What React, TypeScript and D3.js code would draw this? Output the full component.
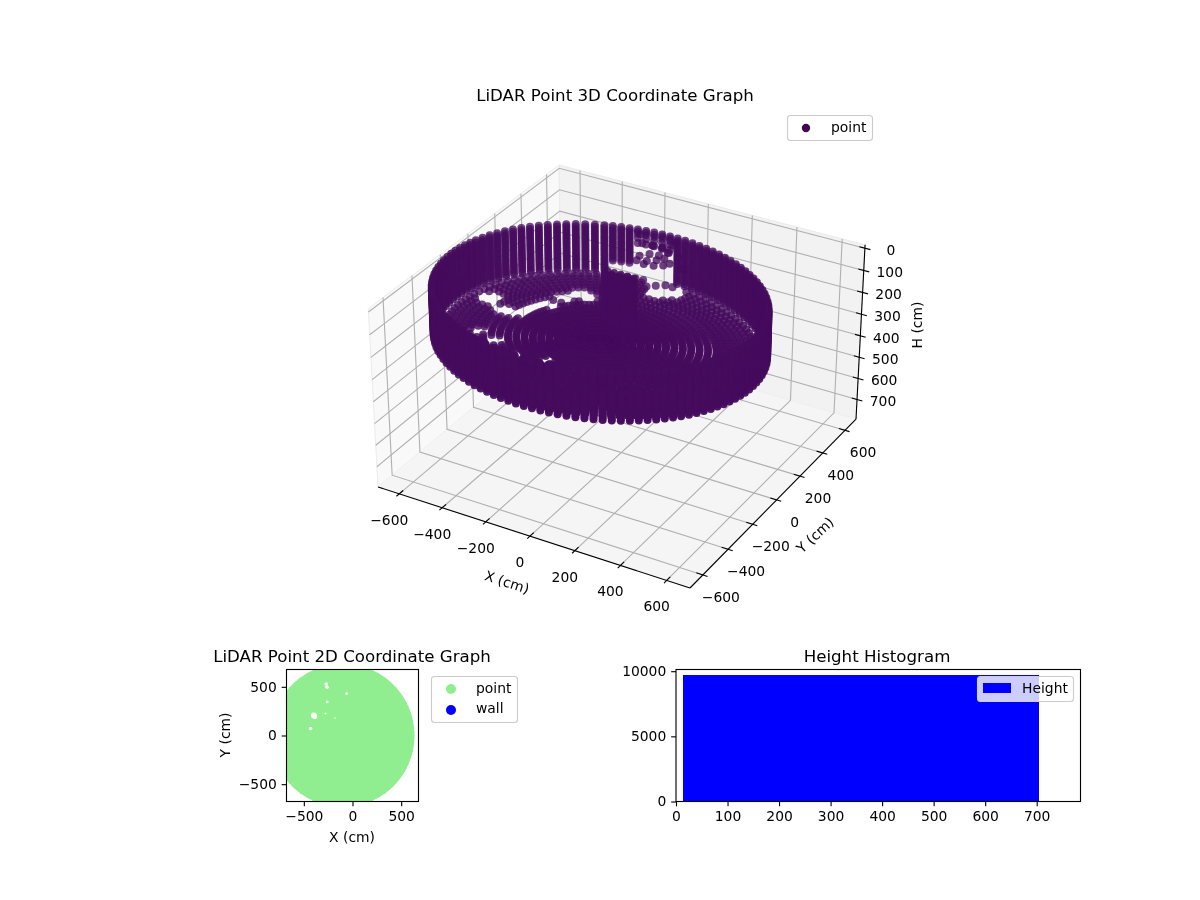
import { useEffect, useRef } from "react";
import * as d3 from "d3";

// values
const xTicks3d = [-600, -400, -200, 0, 200, 400, 600];
const yTicks3d = [-600, -400, -200, 0, 200, 400, 600];
const zTicks3d = [0, 100, 200, 300, 400, 500, 600, 700];
const xLim3d = [-700, 700];
const yLim3d = [-700, 700];
const zLim3d = [795, -15]; // inverted, floor pane sits at the large end

const ringCenter = [-100, 0];
const ringRadiusX = 682;
const ringRadiusY = 565;
const wallAzimuths = [
  0, 3, 6, 9, 12, 15, 18, 21, 24, 27, 30, 33, 36, 39, 42, 45, 48, 51, 54, 57, 60, 63, 66, 69, 72, 75, 78, 81, 84, 87,
  114, 117.4, 120.8, 124.2, 127.6, 131, 134.4, 137.8, 141.2, 144.6, 148, 151.4, 154.8, 158.2, 161.6, 165, 168, 171,
  174, 177, 180, 183, 186, 189, 192, 195, 198, 201, 204, 207, 210, 213, 216, 219, 222, 225, 228, 231, 234, 237, 240,
  243, 246, 249, 252, 255, 258, 261, 264, 267, 270, 273, 276, 279, 282, 285, 288, 291, 294, 297, 300, 303, 306, 309,
  312, 315, 318, 321, 324, 327, 330, 333, 336, 339, 342, 345, 348, 351, 354, 357,
];
const wallHeights = [98, 108, 118, 128, 138, 148, 158, 168, 178, 188, 198, 208, 218, 228, 238, 248, 258, 268, 278, 288, 298, 308];
// columns at the back that stop early
const shortAzimuths = [90, 93, 96, 99, 102];
const shortHeights = [98, 108, 118, 136, 161];
const halfAzimuths = [105, 108, 111];
const halfHeights = [98, 108, 118, 128, 138, 148, 158, 168, 178, 188, 198, 208, 218, 228, 238, 248, 258];

const floorAzimuths = [
  0, 3, 6, 9, 12, 15, 18, 21, 24, 27, 30, 33, 36, 39, 42, 45, 48, 51, 54, 57, 60, 63, 66, 69, 72, 75, 78, 81, 84, 87, 90,
  93, 96, 99, 102, 105, 108, 111, 114, 117, 120, 123, 126, 129, 132, 135, 138, 141, 144, 147, 150, 153, 156, 159, 162,
  165, 168, 171, 174, 177, 180, 183, 186, 189, 192, 195, 198, 201, 204, 207, 210, 213, 216, 219, 222, 225, 228, 231,
  234, 237, 240, 243, 246, 249, 252, 255, 258, 261, 264, 267, 270, 273, 276, 279, 282, 285, 288, 291, 294, 297, 300,
  303, 306, 309, 312, 315, 318, 321, 324, 327, 330, 333, 336, 339, 342, 345, 348, 351, 354, 357,
];
const floorFractions = [0.05, 0.1, 0.15, 0.2, 0.25, 0.3, 0.35, 0.4, 0.45, 0.5, 0.55, 0.6, 0.65, 0.7, 0.74, 0.78, 0.82, 0.86, 0.9, 0.94];
const floorHeight = 308;

// floor patches that the scan did not reach: x, y, radius
const floorHoles = [
  [-655, 85, 52], [-561, 32, 50], [-500, 43, 46], [-466, 106, 42], [-425, 155, 42], [-404, 243, 48], [-360, 286, 48],
  [-313, 281, 42], [-92, 455, 55], [-47, 481, 50], [-165, 535, 36], [-557, -165, 34], [-459, -190, 30],
  [-325, -251, 30], [-207, -223, 25],
];

// tall thing in the middle of the room
const towerX = [-150, -120, -90, -60, -30];
const towerY = [130, 150];
const towerZ = [75, 95, 115, 135, 155, 175, 195, 215, 235, 255, 275, 295];

// loose returns near the back wall: x, y, z
const clutter = [
  [-181, 542, 190], [-142, 550, 190], [-118, 589, 190], [-118, 464, 190], [-159, 456, 190], [-209, 509, 190],
  [-85, 484, 190], [-204, 611, 190], [-164, 620, 190], [-136, 652, 190], [-225, 560, 160], [-95, 540, 160],
  [-60, 560, 180], [-250, 590, 140], [-20, 530, 210], [-200, 470, 190], [-170, 500, 200], [-130, 510, 190],
  [-100, 520, 180], [-70, 510, 190], [-150, 590, 180], [-110, 630, 160], [-190, 580, 170],
];

const planTicks = [-500, 0, 500];
const planLim = [-678, 678];
const planRadius = 687;
const planFractions = [0.08, 0.16, 0.24, 0.32, 0.4, 0.48, 0.56, 0.64, 0.72, 0.8, 0.86, 0.92, 0.96, 1];
// white slivers in the 2D graph: x, y, radius
const planGaps = [
  [-270, 530, 18], [-262, 495, 18], [-60, 430, 14], [-260, 345, 14], [-397, 205, 30], [-385, 190, 22],
  [-430, 72, 18], [-278, 225, 10], [-180, 180, 8],
];

const histEdges = [13, 82, 151, 220, 289, 358, 427, 497, 566, 635, 705];
const histCounts = [9693, 9693, 9693, 9693, 9693, 9693, 9693, 9693, 9693, 9693];
const histXTicks = [0, 100, 200, 300, 400, 500, 600, 700];
const histYTicks = [0, 5000, 10000];

const FONT = "'DejaVu Sans', sans-serif";
const minus = (d: d3.NumberValue) => String(d).replace("-", "\u2212");

// matplotlib-style camera: azim -60, dist 10
const boxF = (1.8294640721620434 * 25) / 24 / Math.hypot(4, 4, 3);
const box = [4 * boxF, 4 * boxF, 2.45 * boxF];
const el = (32 * Math.PI) / 180;
const az = (-60 * Math.PI) / 180;
const w = [Math.cos(el) * Math.cos(az), Math.cos(el) * Math.sin(az), Math.sin(el)];
const eye = [box[0] / 2 + 10 * w[0], box[1] / 2 + 10 * w[1], box[2] / 2 + 10 * w[2]];
const uLen = Math.hypot(w[1], w[0]);
const u = [-w[1] / uLen, w[0] / uLen, 0];
const v = [w[1] * u[2] - w[2] * u[1], w[2] * u[0] - w[0] * u[2], w[0] * u[1] - w[1] * u[0]];
const dot = (a: number[], b: number[]) => a[0] * b[0] + a[1] * b[1] + a[2] * b[2];

const worldX = d3.scaleLinear().domain(xLim3d).range([0, box[0]]);
const worldY = d3.scaleLinear().domain(yLim3d).range([0, box[1]]);
const worldZ = d3.scaleLinear().domain(zLim3d).range([0, box[2]]);

function camera(x: number, y: number, z: number) {
  const d = [worldX(x) - eye[0], worldY(y) - eye[1], worldZ(z) - eye[2]];
  const depth = dot(w, d);
  return { sx: dot(u, d) / -depth, sy: dot(v, d) / -depth, depth };
}

const [x0, x1] = xLim3d;
const [y0, y1] = yLim3d;
const [zb, zt] = zLim3d;

// pin the projected box to the corners seen in the picture
const screenX = d3.scaleLinear().domain([camera(x0, y0, zb).sx, camera(x1, y1, zb).sx]).range([378, 856]);
const screenY = d3.scaleLinear().domain([camera(x1, y0, zb).sy, camera(x0, y1, zt).sy]).range([588, 165]);
const project = (x: number, y: number, z: number): [number, number] => {
  const c = camera(x, y, z);
  return [screenX(c.sx), screenY(c.sy)];
};

const ringPoint = (az: number, f: number) => [
  ringCenter[0] + f * ringRadiusX * Math.cos((az * Math.PI) / 180),
  ringCenter[1] + f * ringRadiusY * Math.sin((az * Math.PI) / 180),
];
const planPoint = (az: number, f: number) => [
  ringCenter[0] + f * planRadius * Math.cos((az * Math.PI) / 180),
  ringCenter[1] + f * planRadius * Math.sin((az * Math.PI) / 180),
];

const inHole = (x: number, y: number) => floorHoles.some(([hx, hy, hr]) => Math.hypot(x - hx, y - hy) < hr);

function buildCloud() {
  const pts: number[][] = [];
  for (const a of wallAzimuths) for (const z of wallHeights) pts.push([...ringPoint(a, 1), z]);
  for (const a of shortAzimuths) for (const z of shortHeights) pts.push([...ringPoint(a, 1), z]);
  for (const a of halfAzimuths) for (const z of halfHeights) pts.push([...ringPoint(a, 1), z]);
  for (const f of floorFractions)
    for (const a of floorAzimuths) {
      const [x, y] = ringPoint(a, f);
      if (!inHole(x, y)) pts.push([x, y, floorHeight]);
    }
  for (const x of towerX) for (const y of towerY) for (const z of towerZ) pts.push([x, y, z]);
  for (const p of clutter) pts.push(p);
  return pts;
}

function styleAxis(g: d3.Selection<SVGGElement, unknown, null, undefined>) {
  g.select(".domain").remove();
  g.selectAll(".tick line").attr("stroke", "#000").attr("stroke-width", 1.11);
  g.selectAll(".tick text").attr("fill", "#000").style("font-family", FONT).style("font-size", "13.89px");
}

export default function App() {
  const svgRef = useRef<SVGSVGElement>(null);

  useEffect(() => {
    if (!svgRef.current) return;
    const svg = d3.select(svgRef.current);
    svg.selectAll("*").remove();

    const label = (x: number, y: number, text: string, size = 13.89, rotate = 0, anchor = "middle") =>
      svg
        .append("text")
        .attr("transform", `translate(${x},${y}) rotate(${rotate})`)
        .attr("text-anchor", anchor)
        .attr("dominant-baseline", "central")
        .style("font-family", FONT)
        .style("font-size", `${size}px`)
        .attr("fill", "#000")
        .text(text);

    // ---- 3D graph ----
    const line3 = d3.line<number[]>().x((d) => project(d[0], d[1], d[2])[0]).y((d) => project(d[0], d[1], d[2])[1]);
    const panes = [
      { pts: [[x0, y0, zb], [x0, y1, zb], [x0, y1, zt], [x0, y0, zt]], fill: "#f9f9f9" },
      { pts: [[x0, y1, zb], [x1, y1, zb], [x1, y1, zt], [x0, y1, zt]], fill: "#f2f2f2" },
      { pts: [[x0, y0, zb], [x1, y0, zb], [x1, y1, zb], [x0, y1, zb]], fill: "#f5f5f5" },
    ];
    svg.append("g").selectAll("path").data(panes).join("path")
      .attr("d", (d) => line3(d.pts) + "Z")
      .attr("fill", (d) => d.fill)
      .attr("stroke", (d) => d.fill === "#f5f5f5" ? "#f0f0f0" : "#ebebeb")
      .attr("stroke-width", 1);

    const grid = svg.append("g").attr("fill", "none").attr("stroke", "#b0b0b0").attr("stroke-width", 1.11);
    for (const t of xTicks3d) grid.append("path").attr("d", line3([[t, y0, zb], [t, y1, zb], [t, y1, zt]]));
    for (const t of yTicks3d) grid.append("path").attr("d", line3([[x1, t, zb], [x0, t, zb], [x0, t, zt]]));
    for (const t of zTicks3d) grid.append("path").attr("d", line3([[x1, y1, t], [x0, y1, t], [x0, y0, t]]));

    const axes3 = svg.append("g").attr("fill", "none").attr("stroke", "#000").attr("stroke-width", 1.11);
    axes3.append("path").attr("d", line3([[x0, y0, zb], [x1, y0, zb]]));
    axes3.append("path").attr("d", line3([[x1, y0, zb], [x1, y1, zb]]));
    axes3.append("path").attr("d", line3([[x1, y1, zb], [x1, y1, zt]]));
    for (const t of xTicks3d) axes3.append("path").attr("d", line3([[t, y0 - 20, zb], [t, y0 + 28, zb]]));
    for (const t of yTicks3d) axes3.append("path").attr("d", line3([[x1 + 20, t, zb], [x1 - 28, t, zb]]));
    for (const t of zTicks3d) axes3.append("path").attr("d", line3([[x1 + 24, y1, t], [x1 - 24, y1, t]]));

    for (const t of xTicks3d) {
      const [px, py] = project(t, y0, zb);
      label(px - 10, py + 26, minus(t));
    }
    for (const t of yTicks3d) {
      const [px, py] = project(x1, t, zb);
      label(px + 18, py + 22, minus(t));
    }
    for (const t of zTicks3d) {
      const [px, py] = project(x1, y1, t);
      label(px + 26, py + 2, minus(t));
    }
    label(507, 582, "X (cm)", 13.89, 18);
    label(815, 535, "Y (cm)", 13.89, -43);
    label(917, 325, "H (cm)", 13.89, -90);

    const cloud = buildCloud().map((p) => {
      const c = camera(p[0], p[1], p[2]);
      return { px: screenX(c.sx), py: screenY(c.sy), depth: c.depth };
    });
    // far points first, depth grows toward the eye
    cloud.sort((a, b) => d3.ascending(a.depth, b.depth));
    const shade = d3.scaleLinear().domain(d3.extent(cloud, (d) => d.depth) as [number, number]).range([0.72, 1]);
    svg.append("g").selectAll("circle").data(cloud).join("circle")
      .attr("cx", (d) => d.px)
      .attr("cy", (d) => d.py)
      .attr("r", 4)
      .attr("fill", "#450b5d")
      .attr("fill-opacity", (d) => shade(d.depth));

    label(615, 95, "LiDAR Point 3D Coordinate Graph", 16.67);

    svg.append("rect").attr("x", 787.5).attr("y", 115.5).attr("width", 85).attr("height", 25).attr("rx", 3)
      .attr("fill", "#fff").attr("fill-opacity", 0.8).attr("stroke", "#ccc").attr("stroke-width", 1.11);
    svg.append("circle").attr("cx", 806).attr("cy", 128).attr("r", 4.17).attr("fill", "#440154");
    label(831, 127, "point", 13.89, 0, "start");

    // ---- 2D graph ----
    const planX = d3.scaleLinear().domain(planLim).range([286.5, 418.5]);
    const planY = d3.scaleLinear().domain(planLim).range([801.5, 669.5]);
    const defs = svg.append("defs");
    defs.append("clipPath").attr("id", "plan-clip").append("rect")
      .attr("x", 286.5).attr("y", 669.5).attr("width", 132).attr("height", 132);
    const plan = svg.append("g").attr("clip-path", "url(#plan-clip)");
    const planPts = planFractions.flatMap((f) => floorAzimuths.map((a) => planPoint(a, f)));
    plan.selectAll("circle.pt").data(planPts).join("circle").attr("class", "pt")
      .attr("cx", (d) => planX(d[0])).attr("cy", (d) => planY(d[1])).attr("r", 5).attr("fill", "#90ee90");
    plan.selectAll("circle.gap").data(planGaps).join("circle").attr("class", "gap")
      .attr("cx", (d) => planX(d[0])).attr("cy", (d) => planY(d[1]))
      .attr("r", (d) => planX(d[2]) - planX(0)).attr("fill", "#fff");

    const planBottom = svg.append("g").attr("transform", "translate(0,801.5)")
      .call(d3.axisBottom(planX).tickValues(planTicks).tickFormat(minus).tickSize(4.86).tickPadding(4.86));
    styleAxis(planBottom);
    const planLeft = svg.append("g").attr("transform", "translate(286.5,0)")
      .call(d3.axisLeft(planY).tickValues(planTicks).tickFormat(minus).tickSize(4.86).tickPadding(4.86));
    styleAxis(planLeft);
    svg.append("rect").attr("x", 286.5).attr("y", 669.5).attr("width", 132).attr("height", 132)
      .attr("fill", "none").attr("stroke", "#000").attr("stroke-width", 1.11);

    label(352, 656, "LiDAR Point 2D Coordinate Graph", 16.67);
    label(352, 837, "X (cm)");
    label(225, 735, "Y (cm)", 13.89, -90);

    svg.append("rect").attr("x", 431.5).attr("y", 676.5).attr("width", 86).attr("height", 46).attr("rx", 3)
      .attr("fill", "#fff").attr("stroke", "#ccc").attr("stroke-width", 1.11);
    svg.append("circle").attr("cx", 451).attr("cy", 689).attr("r", 5).attr("fill", "#90ee90");
    svg.append("circle").attr("cx", 451).attr("cy", 710).attr("r", 5).attr("fill", "#0000ff");
    label(476, 688, "point", 13.89, 0, "start");
    label(476, 708, "wall", 13.89, 0, "start");

    // ---- histogram ----
    const histX = d3.scaleLinear().domain([0, 785]).range([676, 1080.5]);
    const histY = d3.scaleLinear().domain([0, 10130]).range([801.5, 669.5]);
    svg.append("g").selectAll("rect").data(histCounts).join("rect")
      .attr("x", (_, i) => histX(histEdges[i]))
      .attr("y", (d) => histY(d))
      .attr("width", (_, i) => histX(histEdges[i + 1]) - histX(histEdges[i]))
      .attr("height", (d) => histY(0) - histY(d))
      .attr("fill", "#0000ff")
      .attr("shape-rendering", "crispEdges");
    const histBottom = svg.append("g").attr("transform", "translate(0,801.5)")
      .call(d3.axisBottom(histX).tickValues(histXTicks).tickFormat(minus).tickSize(4.86).tickPadding(4.86));
    styleAxis(histBottom);
    const histLeft = svg.append("g").attr("transform", "translate(676,0)")
      .call(d3.axisLeft(histY).tickValues(histYTicks).tickFormat(minus).tickSize(4.86).tickPadding(4.86));
    styleAxis(histLeft);
    svg.append("rect").attr("x", 676).attr("y", 669.5).attr("width", 404.5).attr("height", 132)
      .attr("fill", "none").attr("stroke", "#000").attr("stroke-width", 1.11);

    label(877, 656, "Height Histogram", 16.67);

    svg.append("rect").attr("x", 977.5).attr("y", 676.5).attr("width", 96).attr("height", 25).attr("rx", 3)
      .attr("fill", "#fff").attr("fill-opacity", 0.8).attr("stroke", "#ccc").attr("stroke-width", 1.11);
    svg.append("rect").attr("x", 983).attr("y", 683).attr("width", 28).attr("height", 10).attr("fill", "#0000ff");
    label(1022, 688, "Height", 13.89, 0, "start");
  }, []);

  return <svg ref={svgRef} width={1200} height={900} style={{ position: "fixed", left: 0, top: 0 }} />;
}
